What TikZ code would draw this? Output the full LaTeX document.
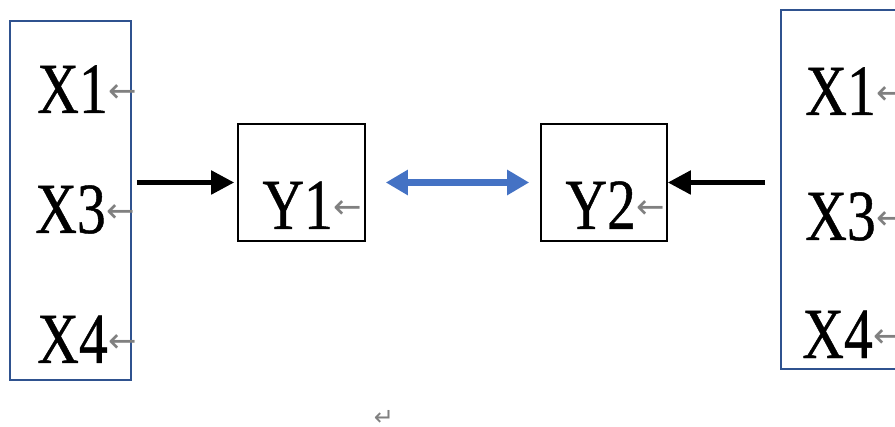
\documentclass[tikz,border=0pt]{standalone}
\usepackage{fontspec}
\usepackage{tikz}
\usetikzlibrary{positioning,arrows.meta}
\usepackage{xcolor}
\newfontfamily\labelfont{Liberation Serif}[FakeStretch=0.8,FakeBold=0.6]
\newfontfamily\markfont{DejaVu Sans}
\definecolor{boxblue}{RGB}{47,82,143}
\definecolor{arrowblue}{RGB}{68,114,196}

\begin{document}
\begin{tikzpicture}[x=0.5pt,y=-0.5pt,
  lbl/.style={inner sep=0,anchor=base west,font=\labelfont\fontsize{36}{40}\selectfont},
  retmark/.style={inner sep=0,text=gray,font=\markfont\fontsize{17}{19}\selectfont},
  bluebox/.style={draw=boxblue,line width=0.8pt,minimum height=179.5pt},
  blackbox/.style={draw,line width=0.8pt,minimum width=63.5pt,minimum height=58.5pt}]
\clip (0,0) rectangle (895,427);
\node[bluebox,minimum width=60.5pt] (lbox) at (70.5,200.5) {};
\node[bluebox,minimum width=114.5pt] (rbox) at (895.5,189.5) {};
\node[blackbox] (y1) at (301.5,182.5) {};
\node[blackbox,minimum width=63pt] (y2) at (604,182.5) {};
\node[lbl] (lx1) at (37,113) {X1};
\node[lbl] (lx3) at (35,233) {X3};
\node[lbl] (lx4) at (37,363) {X4};
\node[lbl] (ty1) at (262,229) {Y1};
\node[lbl] (ty2) at (565,229) {Y2};
\node[lbl] (rx1) at (805,115) {X1};
\node[lbl] (rx3) at (805,240) {X3};
\node[lbl] (rx4) at (802,358) {X4};
\foreach \n in {lx1,lx3,lx4,ty1,ty2,rx1,rx3,rx4}
  \node[retmark,right=0pt of \n.east,yshift=-2pt] (m\n) {←};
\node[text=gray,inner sep=0,font=\markfont\fontsize{12}{14}\selectfont] (endmark) at (384,418) {↵};
\draw[-{Triangle[length=11.5pt,width=11.5pt]},line width=2.5pt,shorten <=2.5pt,shorten >=1.5pt]
  (lbox.east |- y1) -- (y1.west);
\draw[-{Triangle[length=11.5pt,width=11.5pt]},line width=2.5pt,shorten <=7.5pt]
  (rbox.west |- y2) -- (y2.east);
\draw[{Triangle[length=11pt,width=12pt]}-{Triangle[length=11pt,width=12pt]},arrowblue,line width=3.5pt,shorten <=10pt,shorten >=5.5pt]
  (y1.east) -- (y2.west);
\end{tikzpicture}
\end{document}
